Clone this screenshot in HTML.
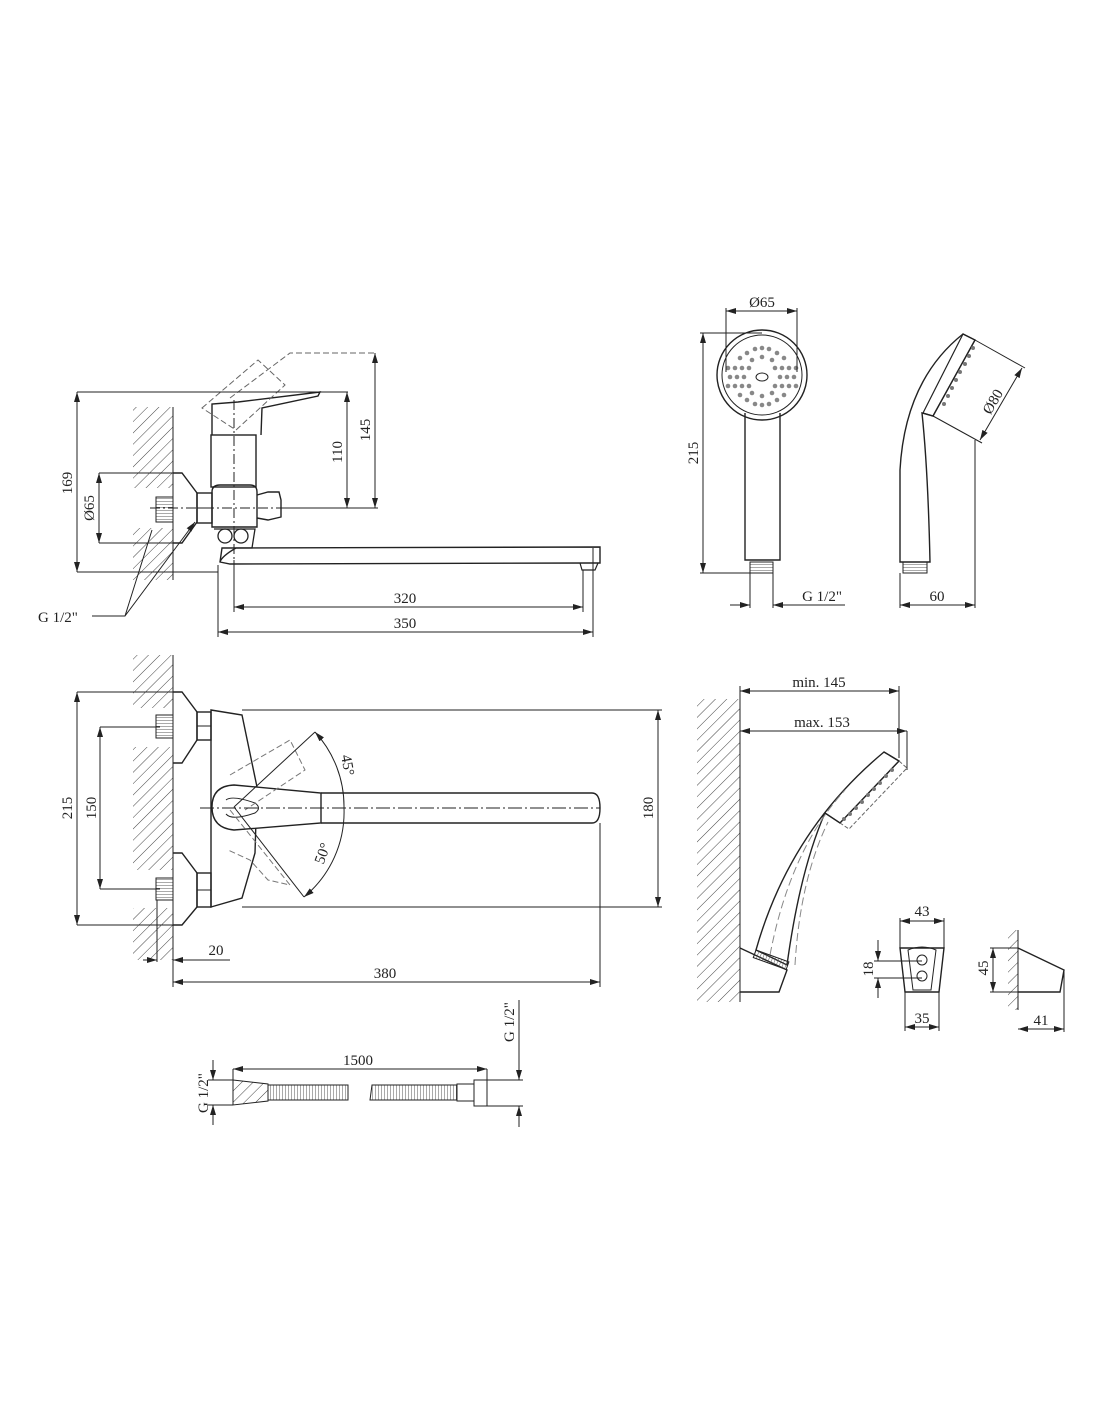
<!DOCTYPE html>
<html><head><meta charset="utf-8"><style>
html,body{margin:0;padding:0;background:#fff;}
svg{display:block;}
text{font-family:"Liberation Serif",serif;font-size:15px;fill:#222;}
</style></head><body>
<svg width="1100" height="1422" viewBox="0 0 1100 1422" xmlns="http://www.w3.org/2000/svg">
<defs>
<pattern id="h" patternUnits="userSpaceOnUse" width="8" height="8" patternTransform="rotate(45)">
<line x1="0" y1="0" x2="0" y2="8" stroke="#444" stroke-width="1"/></pattern>
<pattern id="th" patternUnits="userSpaceOnUse" width="3" height="3">
<line x1="0" y1="0" x2="3" y2="0" stroke="#555" stroke-width="1"/></pattern>
<pattern id="tv" patternUnits="userSpaceOnUse" width="3" height="3">
<line x1="0" y1="0" x2="0" y2="3" stroke="#555" stroke-width="1"/></pattern>
<marker id="a" viewBox="0 0 10 6" refX="10" refY="3" markerWidth="10" markerHeight="6" orient="auto-start-reverse" markerUnits="userSpaceOnUse">
<path d="M0,0 L10,3 L0,6 z" fill="#222"/></marker>
</defs>
<g fill="none" stroke="#222" stroke-width="1">

<!-- ===== TOP-LEFT SIDE VIEW ===== -->
<rect x="133" y="407" width="40" height="81" fill="url(#h)" stroke="none"/>
<rect x="133" y="528" width="40" height="52" fill="url(#h)" stroke="none"/>
<line x1="173" y1="407" x2="173" y2="580"/>
<rect x="156" y="497" width="17" height="25" fill="url(#th)"/>
<path d="M173,473 L182,473 L197,493 L197,522 L182,543 L173,543" stroke-width="1.4"/>
<rect x="197" y="493" width="15" height="30" stroke-width="1.4"/>
<line x1="197" y1="508" x2="212" y2="508"/>
<rect x="211" y="435" width="45" height="52" stroke-width="1.4"/>
<path d="M212,435 L212,404 L238,402 L320,392 L318,396 L262,408 L261,435" stroke-width="1.4"/>
<path d="M212,527 L212,492 Q212,485 220,485 L250,485 Q257,485 257,492 L257,527 Z" stroke-width="1.4"/>
<path d="M257,495 L268,492 L279,492 L281,500 L281,517 L268,520 L257,518" stroke-width="1.4"/>
<circle cx="225" cy="536" r="7" stroke-width="1.3"/><circle cx="241" cy="536" r="7" stroke-width="1.3"/>
<path d="M214,529 L255,529 L252,548 L236,548 Q222,556 220,562" stroke-width="1.3"/>
<path d="M220,562 L222,548 L600,547 L600,563 L590,563 L230,564 Z" stroke-width="1.4"/>
<path d="M580,563 L582,570 L595,570 L598,563" stroke-width="1.2"/>
<path d="M230,398 L290,353 L375,353" stroke-dasharray="6,3" stroke="#666"/>
<path d="M202,408 L258,360 L285,385 L236,430 Z" stroke-dasharray="6,3" stroke="#666"/>
<line x1="234" y1="400" x2="234" y2="608" stroke-dasharray="10,3,2,3"/>
<line x1="150" y1="508" x2="300" y2="508" stroke-dasharray="10,3,2,3"/>
<!-- dims -->
<line x1="77" y1="392" x2="348" y2="392"/>
<line x1="77" y1="572" x2="218" y2="572"/>
<line x1="77" y1="392" x2="77" y2="572" marker-start="url(#a)" marker-end="url(#a)"/>
<line x1="99" y1="473" x2="175" y2="473"/><line x1="99" y1="543" x2="175" y2="543"/>
<line x1="99" y1="473" x2="99" y2="543" marker-start="url(#a)" marker-end="url(#a)"/>
<line x1="282" y1="508" x2="378" y2="508"/>
<line x1="347" y1="392" x2="347" y2="508" marker-start="url(#a)" marker-end="url(#a)"/>
<line x1="375" y1="353" x2="375" y2="508" marker-start="url(#a)" marker-end="url(#a)"/>
<line x1="234" y1="560" x2="234" y2="612"/><line x1="583" y1="570" x2="583" y2="612"/>
<line x1="234" y1="607" x2="583" y2="607" marker-start="url(#a)" marker-end="url(#a)"/>
<line x1="218" y1="565" x2="218" y2="637"/><line x1="593" y1="548" x2="593" y2="637"/>
<line x1="218" y1="632" x2="593" y2="632" marker-start="url(#a)" marker-end="url(#a)"/>
<path d="M92,616 L125,616 L152,530 M125,616 L195,522" marker-end="url(#a)"/>

<!-- ===== MIDDLE-LEFT TOP VIEW ===== -->
<rect x="133" y="655" width="40" height="53" fill="url(#h)" stroke="none"/>
<rect x="133" y="747" width="40" height="123" fill="url(#h)" stroke="none"/>
<rect x="133" y="908" width="40" height="52" fill="url(#h)" stroke="none"/>
<line x1="173" y1="655" x2="173" y2="960"/>
<rect x="156" y="715" width="17" height="23" fill="url(#th)"/>
<rect x="156" y="878" width="17" height="22" fill="url(#th)"/>
<path d="M173,692 L182,692 L197,712 L197,740 L182,763 L173,763" stroke-width="1.4"/>
<path d="M173,853 L182,853 L197,873 L197,907 L182,925 L173,925" stroke-width="1.4"/>
<rect x="197" y="712" width="14" height="28" stroke-width="1.4"/><line x1="197" y1="726" x2="211" y2="726"/>
<rect x="197" y="873" width="14" height="34" stroke-width="1.4"/><line x1="197" y1="890" x2="211" y2="890"/>
<path d="M211,710 L242,715 L257,787 L255,853 L242,898 L211,907 Z" stroke-width="1.4"/>
<path d="M234,785 L321,793 L321,823 L234,830 Q212,828 212,807 Q212,786 234,785 Z" stroke-width="1.4" fill="#fff"/>
<path d="M226,800 Q232,795 255,803 Q262,808 255,813 Q232,821 226,814" stroke-width="1"/>
<path d="M321,793 L592,793 Q600,793 600,808 Q600,823 592,823 L321,823" stroke-width="1.4"/>
<path d="M230,775 L290,740 L305,770 L245,810" stroke-dasharray="6,3" stroke="#777"/>
<path d="M230,810 L290,885 L268,880 L250,860 L228,850" stroke-dasharray="6,3" stroke="#777"/>
<line x1="200" y1="808" x2="600" y2="808" stroke-dasharray="14,3,2,3"/>
<path d="M315,732 A110,110 0 0 1 344,808" marker-start="url(#a)"/>
<path d="M344,808 A110,110 0 0 1 304,897" marker-end="url(#a)"/>
<line x1="234" y1="807" x2="315" y2="732"/><line x1="234" y1="807" x2="304" y2="897"/>
<line x1="77" y1="692" x2="175" y2="692"/><line x1="77" y1="925" x2="175" y2="925"/>
<line x1="77" y1="692" x2="77" y2="925" marker-start="url(#a)" marker-end="url(#a)"/>
<line x1="100" y1="727" x2="160" y2="727"/><line x1="100" y1="889" x2="160" y2="889"/>
<line x1="100" y1="727" x2="100" y2="889" marker-start="url(#a)" marker-end="url(#a)"/>
<line x1="242" y1="710" x2="662" y2="710"/><line x1="242" y1="907" x2="662" y2="907"/>
<line x1="658" y1="710" x2="658" y2="907" marker-start="url(#a)" marker-end="url(#a)"/>
<line x1="157" y1="900" x2="157" y2="962"/>
<line x1="143" y1="960" x2="157" y2="960" marker-end="url(#a)"/>
<line x1="230" y1="960" x2="173" y2="960" marker-end="url(#a)"/>
<line x1="173" y1="960" x2="173" y2="987"/><line x1="600" y1="823" x2="600" y2="987"/>
<line x1="173" y1="982" x2="600" y2="982" marker-start="url(#a)" marker-end="url(#a)"/>

<!-- ===== HOSE ===== -->
<path d="M233,1080 L268,1084 L268,1101 L233,1105 Z" fill="url(#h)"/>
<rect x="268" y="1085" width="80" height="15" fill="url(#tv)"/>
<path d="M372,1085 L457,1085 L457,1100 L370,1100 Z" fill="url(#tv)"/>
<rect x="457" y="1084" width="17" height="17"/>
<rect x="474" y="1080" width="13" height="26"/>
<line x1="233" y1="1069" x2="233" y2="1080"/><line x1="487" y1="1069" x2="487" y2="1080"/>
<line x1="233" y1="1069" x2="487" y2="1069" marker-start="url(#a)" marker-end="url(#a)"/>
<line x1="208" y1="1080" x2="233" y2="1080"/><line x1="208" y1="1105" x2="233" y2="1105"/>
<line x1="213" y1="1060" x2="213" y2="1080" marker-end="url(#a)"/>
<line x1="213" y1="1125" x2="213" y2="1105" marker-end="url(#a)"/>
<line x1="487" y1="1080" x2="523" y2="1080"/><line x1="487" y1="1106" x2="523" y2="1106"/>
<line x1="519" y1="1000" x2="519" y2="1080" marker-end="url(#a)"/>
<line x1="519" y1="1127" x2="519" y2="1106" marker-end="url(#a)"/>

<!-- ===== SHOWER FRONT ===== -->
<circle cx="762" cy="375" r="45" stroke-width="1.4"/>
<circle cx="762" cy="375" r="40"/>
<path d="M745,413 L745,560 L780,560 L780,413" stroke-width="1.4"/>
<rect x="750" y="562" width="23" height="11" fill="url(#th)"/>
<ellipse cx="762" cy="377" rx="6" ry="4"/>
<g fill="#888" stroke="none">
<circle cx="735" cy="368" r="2.3"/><circle cx="742" cy="368" r="2.3"/><circle cx="749" cy="368" r="2.3"/><circle cx="728" cy="368" r="2.3"/>
<circle cx="735" cy="386" r="2.3"/><circle cx="742" cy="386" r="2.3"/><circle cx="749" cy="386" r="2.3"/><circle cx="728" cy="386" r="2.3"/>
<circle cx="775" cy="368" r="2.3"/><circle cx="782" cy="368" r="2.3"/><circle cx="789" cy="368" r="2.3"/><circle cx="796" cy="368" r="2.3"/>
<circle cx="775" cy="386" r="2.3"/><circle cx="782" cy="386" r="2.3"/><circle cx="789" cy="386" r="2.3"/><circle cx="796" cy="386" r="2.3"/>
<circle cx="730" cy="377" r="2.3"/><circle cx="737" cy="377" r="2.3"/><circle cx="744" cy="377" r="2.3"/>
<circle cx="780" cy="377" r="2.3"/><circle cx="787" cy="377" r="2.3"/><circle cx="794" cy="377" r="2.3"/>
<circle cx="747" cy="353" r="2.3"/><circle cx="755" cy="349" r="2.3"/><circle cx="762" cy="348" r="2.3"/><circle cx="769" cy="349" r="2.3"/><circle cx="777" cy="353" r="2.3"/>
<circle cx="740" cy="358" r="2.3"/><circle cx="784" cy="358" r="2.3"/><circle cx="762" cy="357" r="2.3"/><circle cx="752" cy="360" r="2.3"/><circle cx="772" cy="360" r="2.3"/>
<circle cx="747" cy="400" r="2.3"/><circle cx="755" cy="404" r="2.3"/><circle cx="762" cy="405" r="2.3"/><circle cx="769" cy="404" r="2.3"/><circle cx="777" cy="400" r="2.3"/>
<circle cx="740" cy="395" r="2.3"/><circle cx="784" cy="395" r="2.3"/><circle cx="762" cy="396" r="2.3"/><circle cx="752" cy="393" r="2.3"/><circle cx="772" cy="393" r="2.3"/>
</g>
<line x1="726" y1="308" x2="726" y2="372"/><line x1="797" y1="308" x2="797" y2="372"/>
<line x1="726" y1="311" x2="797" y2="311" marker-start="url(#a)" marker-end="url(#a)"/>
<line x1="700" y1="333" x2="762" y2="333"/><line x1="700" y1="573" x2="752" y2="573"/>
<line x1="703" y1="333" x2="703" y2="573" marker-start="url(#a)" marker-end="url(#a)"/>
<line x1="750" y1="573" x2="750" y2="608"/><line x1="773" y1="573" x2="773" y2="608"/>
<line x1="730" y1="605" x2="750" y2="605" marker-end="url(#a)"/>
<line x1="845" y1="605" x2="773" y2="605" marker-end="url(#a)"/>

<!-- ===== SHOWER SIDE ===== -->
<path d="M900,562 L900,470 Q905,380 963,334 L975,340 L933,416 L922,413 Q928,470 930,562 Z" stroke-width="1.4"/>
<path d="M963,334 L975,340 L933,416 L923,413 Z" stroke-width="1.2"/>
<rect x="903" y="562" width="24" height="11" fill="url(#th)"/>
<g fill="#777" stroke="none">
<circle cx="973" cy="348" r="2"/><circle cx="969" cy="356" r="2"/><circle cx="965" cy="364" r="2"/><circle cx="960" cy="372" r="2"/><circle cx="956" cy="380" r="2"/><circle cx="952" cy="388" r="2"/><circle cx="948" cy="396" r="2"/><circle cx="944" cy="404" r="2"/>
</g>
<line x1="975" y1="340" x2="1025" y2="368"/><line x1="933" y1="416" x2="982" y2="443"/>
<line x1="1022" y1="368" x2="980" y2="440" marker-start="url(#a)" marker-end="url(#a)"/>
<line x1="900" y1="573" x2="900" y2="608"/><line x1="975" y1="440" x2="975" y2="608"/>
<line x1="900" y1="605" x2="975" y2="605" marker-start="url(#a)" marker-end="url(#a)"/>

<!-- ===== SHOWER IN HOLDER ===== -->
<rect x="697" y="699" width="43" height="303" fill="url(#h)" stroke="none"/>
<line x1="740" y1="686" x2="740" y2="1002"/>
<path d="M756,950 Q790,830 884,752 L899,761 L840,823 L825,813 Q800,870 787,965 Z" stroke-width="1.4"/>
<path d="M884,752 L899,761 L840,823 L825,813" stroke-width="1.2"/>
<path d="M899,761 L907,768 L849,829 L840,823" stroke-dasharray="4,2" stroke="#666"/>
<path d="M770,955 Q790,850 845,790 M795,965 Q800,880 828,822" stroke-dasharray="8,4" stroke="#888"/>
<g fill="#777" stroke="none">
<circle cx="892" cy="770" r="2"/><circle cx="886" cy="776" r="2"/><circle cx="880" cy="783" r="2"/><circle cx="874" cy="789" r="2"/><circle cx="868" cy="795" r="2"/><circle cx="862" cy="802" r="2"/><circle cx="856" cy="808" r="2"/><circle cx="850" cy="814" r="2"/><circle cx="844" cy="819" r="2"/>
</g>
<path d="M740,948 L787,970 L779,992 L740,992" stroke-width="1.4"/>
<rect x="756" y="950" width="35" height="8" fill="url(#tv)" transform="rotate(20 756 950)"/>
<line x1="740" y1="691" x2="899" y2="691" marker-start="url(#a)" marker-end="url(#a)"/>
<line x1="899" y1="686" x2="899" y2="758"/>
<line x1="740" y1="731" x2="907" y2="731" marker-start="url(#a)" marker-end="url(#a)"/>
<line x1="907" y1="731" x2="907" y2="770"/>

<!-- holder front -->
<path d="M900,948 L944,948 L939,992 L905,992 Z" stroke-width="1.4"/>
<path d="M908,950 Q922,944 936,950 L931,990 L913,990 Z"/>
<circle cx="922" cy="960" r="5"/><circle cx="922" cy="976" r="5"/>
<line x1="900" y1="918" x2="900" y2="948"/><line x1="944" y1="918" x2="944" y2="948"/>
<line x1="900" y1="921" x2="944" y2="921" marker-start="url(#a)" marker-end="url(#a)"/>
<line x1="905" y1="992" x2="905" y2="1031"/><line x1="939" y1="992" x2="939" y2="1031"/>
<line x1="905" y1="1027" x2="939" y2="1027" marker-start="url(#a)" marker-end="url(#a)"/>
<line x1="874" y1="961" x2="922" y2="961"/><line x1="874" y1="978" x2="922" y2="978"/>
<line x1="878" y1="940" x2="878" y2="961" marker-end="url(#a)"/>
<line x1="878" y1="998" x2="878" y2="978" marker-end="url(#a)"/>

<!-- holder side -->
<rect x="1008" y="930" width="10" height="80" fill="url(#h)" stroke="none"/>
<line x1="1018" y1="930" x2="1018" y2="1010"/>
<path d="M1018,948 L1064,970 L1060,992 L1018,992" stroke-width="1.4"/>
<line x1="990" y1="948" x2="1018" y2="948"/><line x1="990" y1="992" x2="1018" y2="992"/>
<line x1="993" y1="948" x2="993" y2="992" marker-start="url(#a)" marker-end="url(#a)"/>
<line x1="1064" y1="970" x2="1064" y2="1032"/>
<line x1="1018" y1="1029" x2="1064" y2="1029" marker-start="url(#a)" marker-end="url(#a)"/>
</g>

<!-- TEXT -->
<text x="72" y="483" transform="rotate(-90 72 483)" text-anchor="middle">169</text>
<text x="94" y="508" transform="rotate(-90 94 508)" text-anchor="middle">Ø65</text>
<text x="342" y="452" transform="rotate(-90 342 452)" text-anchor="middle">110</text>
<text x="370" y="430" transform="rotate(-90 370 430)" text-anchor="middle">145</text>
<text x="405" y="603" text-anchor="middle">320</text>
<text x="405" y="628" text-anchor="middle">350</text>
<text x="38" y="622">G 1/2"</text>
<text x="72" y="808" transform="rotate(-90 72 808)" text-anchor="middle">215</text>
<text x="96" y="808" transform="rotate(-90 96 808)" text-anchor="middle">150</text>
<text x="653" y="808" transform="rotate(-90 653 808)" text-anchor="middle">180</text>
<text x="343" y="766" transform="rotate(80 343 766)" text-anchor="middle">45°</text>
<text x="327" y="855" transform="rotate(-70 327 855)" text-anchor="middle">50°</text>
<text x="216" y="955" text-anchor="middle">20</text>
<text x="385" y="978" text-anchor="middle">380</text>
<text x="358" y="1065" text-anchor="middle">1500</text>
<text x="208" y="1093" transform="rotate(-90 208 1093)" text-anchor="middle">G 1/2"</text>
<text x="514" y="1022" transform="rotate(-90 514 1022)" text-anchor="middle">G 1/2"</text>
<text x="762" y="307" text-anchor="middle">Ø65</text>
<text x="698" y="453" transform="rotate(-90 698 453)" text-anchor="middle">215</text>
<text x="822" y="601" text-anchor="middle">G 1/2"</text>
<text x="997" y="404" transform="rotate(-60 997 404)" text-anchor="middle">Ø80</text>
<text x="937" y="601" text-anchor="middle">60</text>
<text x="819" y="687" text-anchor="middle">min. 145</text>
<text x="822" y="727" text-anchor="middle">max. 153</text>
<text x="922" y="916" text-anchor="middle">43</text>
<text x="922" y="1023" text-anchor="middle">35</text>
<text x="873" y="969" transform="rotate(-90 873 969)" text-anchor="middle">18</text>
<text x="988" y="968" transform="rotate(-90 988 968)" text-anchor="middle">45</text>
<text x="1041" y="1025" text-anchor="middle">41</text>
</svg>
</body></html>
